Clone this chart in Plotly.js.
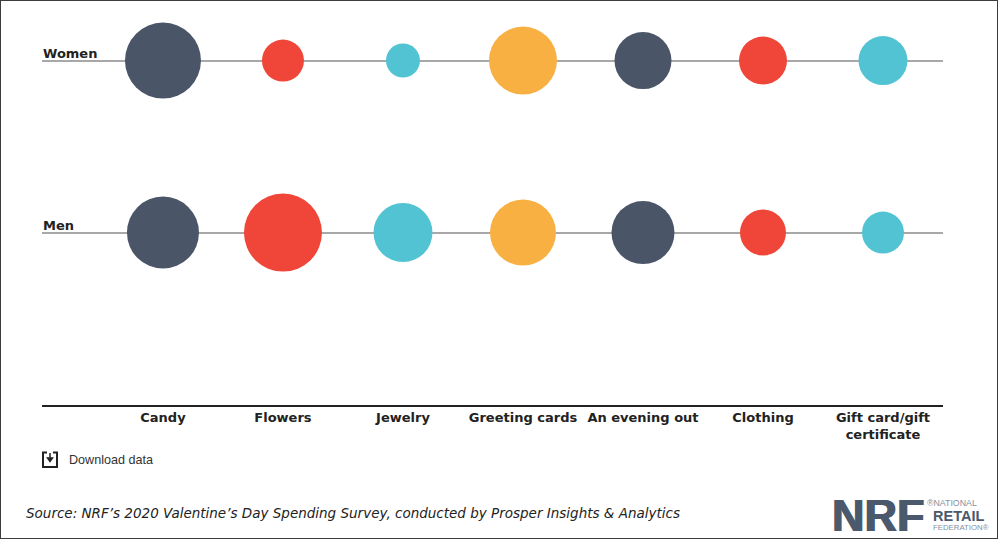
<!DOCTYPE html>
<html>
<head>
<meta charset="utf-8">
<script src="https://cdn.plot.ly/plotly-3.0.1.min.js"></script>
<style>
html, body { margin: 0; padding: 0; background: #fff; overflow: hidden; }
#chart { width: 999px; height: 541px; }
#frame { position: absolute; left: 0; top: 0; width: 996px; height: 537px; border: 1.5px solid #3c3c3c; pointer-events: none; }
</style>
</head>
<body>
<div id="chart"></div>
<div id="frame"></div>
<script>
var gifts = ['Candy', 'Flowers', 'Jewelry', 'Greeting cards', 'An evening out', 'Clothing', 'Gift card/gift certificate'];
var tickLabels = ['Candy', 'Flowers', 'Jewelry', 'Greeting cards', 'An evening out', 'Clothing', 'Gift card/gift<br>certificate'];
var rows = ['Men', 'Women'];
// circle diameters
var women = [76, 42, 34, 68, 57, 48, 49];
var men = [72, 78, 59, 66, 63, 46, 42];
var colors = ['#4a5568', '#ef4639', '#52c3d2', '#f8b042', '#4a5568', '#ef4639', '#52c3d2'];

var W = 999, H = 541;
var left = 42, right = 943, bottom = 405;
var labelFont = '"DejaVu Sans", sans-serif';
var sansFont = '"Liberation Sans", Arial, sans-serif';

// page pixels -> paper coordinates
function px(x) { return (x - left) / (right - left); }
function py(y) { return 1 - y / bottom; }

function rowTrace(name, sizes) {
	return {
		type: 'scatter',
		mode: 'markers',
		name: name,
		x: gifts,
		y: gifts.map(function() { return name; }),
		marker: { size: sizes, sizemode: 'diameter', sizeref: 1, color: colors, line: { width: 0 }, opacity: 1 },
		hovertemplate: '%{x}<extra>' + name + '</extra>'
	};
}

function note(text, x, y, font) {
	return {
		text: text, xref: 'paper', yref: 'paper', x: px(x), y: py(y),
		xanchor: 'left', yanchor: 'middle', showarrow: false, borderpad: 0,
		font: font
	};
}

var logoBlue = '#4a5a6c';
var logoGrey = '#8391a0';
var layout = {
	width: W,
	height: H,
	margin: { l: left, r: W - right, t: 0, b: H - bottom, pad: 0 },
	paper_bgcolor: '#fff',
	plot_bgcolor: '#fff',
	showlegend: false,
	xaxis: {
		type: 'category',
		categoryorder: 'array',
		categoryarray: gifts,
		tickmode: 'array',
		tickvals: gifts,
		ticktext: tickLabels,
		range: [-1.008, 6.5],
		showgrid: false,
		zeroline: false,
		showline: true,
		linecolor: '#222',
		linewidth: 2,
		ticks: '',
		ticklen: 0,
		tickfont: { family: labelFont, size: 13, color: '#222', weight: 700 },
		ticklabelstandoff: -1,
		fixedrange: true
	},
	yaxis: {
		type: 'category',
		categoryorder: 'array',
		categoryarray: rows,
		range: [-1.002, 1.352],
		showticklabels: false,
		showgrid: true,
		gridcolor: '#a8a8a8',
		gridwidth: 1.5,
		zeroline: false,
		showline: false,
		ticks: '',
		fixedrange: true
	},
	annotations: [
		note('Women', 42, 53, { family: labelFont, size: 13, color: '#222', weight: 700 }),
		note('Men', 42, 225, { family: labelFont, size: 13, color: '#222', weight: 700 }),
		note('Download data', 68, 460, { family: sansFont, size: 12.6, color: '#333' }),
		note('Source: NRF\u2019s 2020 Valentine\u2019s Day Spending Survey, conducted by Prosper Insights &amp; Analytics', 25, 513,
			{ family: labelFont, size: 13.5, color: '#222', style: 'italic' }),
		note('NRF', 831, 515, { family: sansFont, size: 45, color: logoBlue, weight: 700, shadow: '0.8px 0 0 ' + logoBlue + ', -0.8px 0 0 ' + logoBlue }),
		note('\u00aeNATIONAL', 926, 503, { family: sansFont, size: 8.8, color: logoGrey }),
		note('RETAIL', 932, 516, { family: sansFont, size: 14.5, color: logoBlue, weight: 700 }),
		note('FEDERATION\u00ae', 932, 527.5, { family: sansFont, size: 7.8, color: logoGrey })
	],
	shapes: [
		// download icon
		{ type: 'path', xref: 'paper', yref: 'paper', line: { color: '#222', width: 2 },
			path: 'M' + px(47) + ',' + py(452.5) + ' L' + px(43) + ',' + py(452.5) + ' L' + px(43) + ',' + py(467) + ' L' + px(57) + ',' + py(467) + ' L' + px(57) + ',' + py(452.5) + ' L' + px(53) + ',' + py(452.5) },
		{ type: 'path', xref: 'paper', yref: 'paper', line: { color: '#222', width: 1.5 }, fillcolor: '#222',
			path: 'M' + px(50) + ',' + py(453) + ' L' + px(50) + ',' + py(459) + ' M' + px(47.5) + ',' + py(458) + ' L' + px(52.5) + ',' + py(458) + ' L' + px(50) + ',' + py(461.5) + ' Z' }
	]
};

Plotly.newPlot('chart', [rowTrace('Women', women), rowTrace('Men', men)], layout, { displayModeBar: false });
</script>
</body>
</html>
